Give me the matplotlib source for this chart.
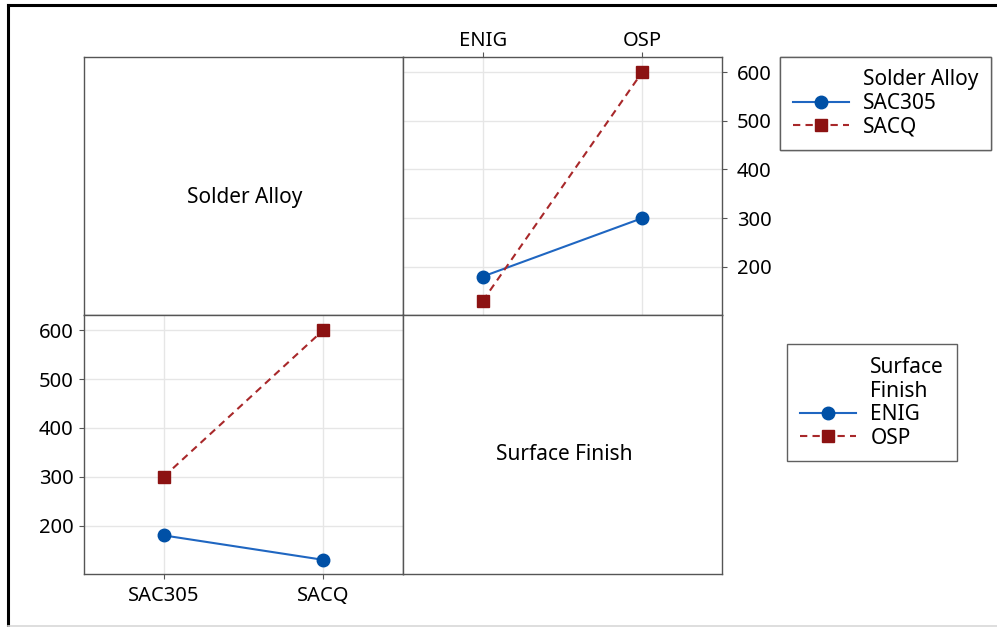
import matplotlib
matplotlib.use("Agg")
import matplotlib.pyplot as plt
from matplotlib.lines import Line2D

plt.rcParams['font.family'] = ['Noto Sans', 'DejaVu Sans']
plt.rcParams['font.weight'] = 500

# Mean response for each Solder Alloy x Surface Finish combination
finishes = ["ENIG", "OSP"]
alloys = ["SAC305", "SACQ"]
sac305_by_finish = [180, 300]   # ENIG, OSP
sacq_by_finish = [130, 600]     # ENIG, OSP
enig_by_alloy = [180, 130]      # SAC305, SACQ
osp_by_alloy = [300, 600]       # SAC305, SACQ
y_ticks = [200, 300, 400, 500, 600]

BLUE_LINE = "#1f66c1"
BLUE_MARK = "#0050a6"
RED_LINE = "#a8282a"
RED_MARK = "#8c1212"
FRAME = "#555555"
GRID = "#e6e6e6"
FS = 15
TICK_FS = 14.5
YLIM = (101, 631)

W, H = 997, 627
fig = plt.figure(figsize=(W / 100, H / 100), dpi=100)


def fig_rect(x0, y0, x1, y1):
    return [x0 / W, 1 - y1 / H, (x1 - x0) / W, (y1 - y0) / H]


ax_tl = fig.add_axes(fig_rect(84, 57, 403, 315))
ax_tr = fig.add_axes(fig_rect(403, 57, 722, 315))
ax_bl = fig.add_axes(fig_rect(84, 315, 403, 574))
ax_br = fig.add_axes(fig_rect(403, 315, 722, 574))

for ax in (ax_tl, ax_tr, ax_bl, ax_br):
    for sp in ax.spines.values():
        sp.set_color(FRAME)
        sp.set_linewidth(1.0)

for ax in (ax_tl, ax_br):
    ax.set_xticks([])
    ax.set_yticks([])

ax_tl.text(0.505, 0.455, "Solder Alloy", transform=ax_tl.transAxes,
           ha="center", va="center", fontsize=FS)
ax_br.text(0.507, 0.46, "Surface Finish", transform=ax_br.transAxes,
           ha="center", va="center", fontsize=FS)


def style_lines(ax, x, blue_vals, red_vals, blue_label, red_label):
    hb, = ax.plot(x, blue_vals, color=BLUE_LINE, lw=1.5, marker="o", ms=9,
                  mfc=BLUE_MARK, mec=BLUE_MARK, label=blue_label, zorder=3)
    hr, = ax.plot(x, red_vals, color=RED_LINE, lw=1.5, ls=(0, (3.5, 2.5)),
                  marker="s", ms=8.5, mfc=RED_MARK, mec=RED_MARK,
                  label=red_label, zorder=3)
    ax.set_xlim(-0.5, 1.5)
    ax.set_ylim(*YLIM)
    ax.set_yticks(y_ticks)
    ax.grid(True, color=GRID, lw=1.0, zorder=0)
    ax.set_axisbelow(True)
    return hb, hr


# Top-right: response vs surface finish, one line per solder alloy
xf = list(range(len(finishes)))
h_sac305, h_sacq = style_lines(ax_tr, xf, sac305_by_finish, sacq_by_finish,
                               "SAC305", "SACQ")
ax_tr.set_xticks(xf)
ax_tr.set_xticklabels(finishes)
ax_tr.xaxis.tick_top()
ax_tr.yaxis.tick_right()
ax_tr.tick_params(axis="x", length=3.6, width=0.8, color=FRAME, pad=0.5,
                  labelsize=TICK_FS)
ax_tr.tick_params(axis="y", length=3.8, width=0.8, color=FRAME, pad=7,
                  labelsize=TICK_FS)

# Bottom-left: response vs solder alloy, one line per surface finish
xa = list(range(len(alloys)))
h_enig, h_osp = style_lines(ax_bl, xa, enig_by_alloy, osp_by_alloy,
                            "ENIG", "OSP")
ax_bl.set_xticks(xa)
ax_bl.set_xticklabels(alloys)
ax_bl.tick_params(axis="x", length=3.8, width=0.8, color=FRAME, pad=4.5,
                  labelsize=TICK_FS)
ax_bl.tick_params(axis="y", length=3.8, width=0.8, color=FRAME, pad=3.5,
                  labelsize=TICK_FS)

blank = Line2D([], [], lw=0, marker=None)


def add_legend(handles, labels, x0, y0):
    leg = fig.legend(handles, labels, loc="upper left",
                     bbox_to_anchor=(x0 / W, 1 - y0 / H),
                     bbox_transform=fig.transFigure, borderaxespad=0,
                     fontsize=FS, frameon=True, fancybox=False,
                     edgecolor="#606060", framealpha=1, handlelength=2.7,
                     handletextpad=0.7, labelspacing=0.12, borderpad=0.6)
    leg.get_frame().set_linewidth(1.0)
    return leg


leg1 = add_legend([blank, h_sac305, h_sacq],
                  ["Solder Alloy", "SAC305", "SACQ"], 780, 57)
add_legend([blank, h_enig, h_osp],
           ["Surface\nFinish", "ENIG", "OSP"], 787, 344)
fig.add_artist(leg1)

# Outer frame
fig.add_artist(Line2D([7.5 / W, 1], [1 - 5 / H, 1 - 5 / H],
                      transform=fig.transFigure, color="black", lw=2.2))
fig.add_artist(Line2D([7.5 / W, 7.5 / W], [1 - 5 / H, 1 - 625.5 / H],
                      transform=fig.transFigure, color="black", lw=2.2))
fig.add_artist(Line2D([7.5 / W, 1], [1 - 625.5 / H, 1 - 625.5 / H],
                      transform=fig.transFigure, color="#d8d8d8", lw=1.2))

fig.savefig("out.png", dpi=100)
